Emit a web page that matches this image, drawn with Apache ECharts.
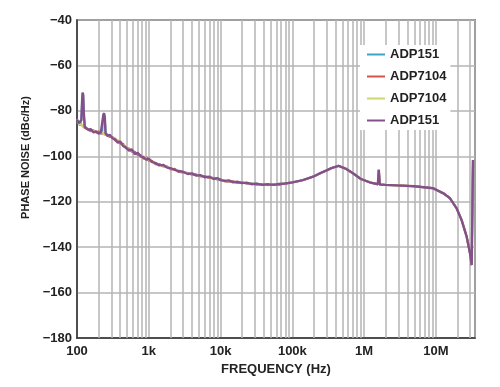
<!DOCTYPE html>
<html>
<head>
<meta charset="utf-8">
<script src="https://cdn.jsdelivr.net/npm/echarts@6/dist/echarts.min.js"></script>
<style>
  html, body { margin: 0; padding: 0; background: #fff; }
  #chart { width: 500px; height: 387px; }
</style>
</head>
<body>
<div id="chart"></div>
<script>
// ---- data ----
const seriesNames = ['ADP151', 'ADP7104', 'ADP7104', 'ADP151'];
const seriesColors = ['#3aa6c4', '#d2554c', '#cfd670', '#84508a'];

const freqHz = [
  100, 105, 110, 115, 118, 120, 122, 124, 128, 135,
  145, 155, 170, 185, 200, 215, 225, 232, 238, 244,
  250, 265, 285, 310, 340, 370, 400, 440, 480, 530,
  580, 640, 700, 770, 850, 930, 1000, 1100, 1250, 1400,
  1600, 1800, 2000, 2300, 2600, 3000, 3500, 4000, 4600, 5200,
  6000, 7000, 8000, 9000, 10000, 11500, 13000, 15000, 17000, 20000,
  23000, 27000, 32000, 38000, 45000, 55000, 65000, 80000,
  100000, 140000, 200000, 250000, 300000, 350000, 440000, 550000, 700000, 900000,
  1200000, 1550000, 1600000, 1650000, 2000000, 2800000, 5000000, 9200000, 12700000, 15700000,
  19400000, 22800000, 26800000, 29800000, 31500000, 32500000, 32800000
];

// low-frequency (noisy) part of each trace, 100 Hz .. 80 kHz
const adp151aLow = [
  -83.5, -85, -86.5, -84, -75, -72, -73, -80, -86.5, -88,
  -88, -88.5, -89, -89.5, -89.5, -90, -89, -82, -81, -83,
  -89.5, -90.5, -91, -91.5, -93, -93.5, -94, -95, -96.5, -97,
  -97.5, -98.5, -99, -99.5, -101, -101, -101.5, -102, -103.5, -103.5,
  -104.3, -104.6, -105.6, -105.7, -106.8, -107.2, -107.3, -108, -108.1, -108.8,
  -108.8, -109.5, -109.6, -110.2, -110.2, -111, -111, -111.2, -111.6, -111.5,
  -112, -112, -112.4, -112.3, -112.6, -112.4, -112.5, -111.9
];
const adp7104aLow = [
  -84.5, -85, -85.5, -86, -86.5, -86, -87, -86.5, -87.5, -87,
  -88, -89, -88.5, -89.5, -89, -90, -89.5, -90, -89.5, -90.5,
  -90.5, -90, -91.5, -91.5, -93, -93, -94.5, -94.5, -96.5, -96.5,
  -98, -98, -99.5, -99.5, -101, -100.5, -102, -102, -103.5, -103.5,
  -104.5, -104.5, -105.8, -105.5, -106.9, -107, -107.6, -108, -108, -108.8,
  -108.7, -109.6, -109.5, -110.2, -110.2, -111, -111.2, -111, -111.7, -111.5,
  -112, -112.1, -112.4, -112.3, -112.7, -112.4, -112.4, -112
];
const adp7104bLow = [
  -85, -85, -86, -85.5, -86, -87, -86.5, -87, -87, -88,
  -88, -88.5, -89, -89, -90, -89.5, -90, -89.5, -90.5, -90,
  -91, -90.5, -91, -92, -92, -93.5, -94, -95, -95.5, -97,
  -97.5, -98.5, -99, -100, -100, -101, -101.5, -102.5, -103, -103.8,
  -104.2, -104.8, -105.5, -106, -106.5, -107, -107.5, -107.8, -108.3, -108.5,
  -109, -109.3, -109.8, -110, -110.5, -110.6, -111, -111.3, -111.4, -111.7,
  -111.8, -112.2, -112.2, -112.5, -112.4, -112.5, -112.3, -112
];
const adp151bLow = [
  -84, -85.5, -86, -84, -75, -72, -73, -80, -87, -87.5,
  -88.5, -88, -89.5, -89, -90, -89.5, -89, -82, -81, -83,
  -90, -91, -90.5, -92, -92.5, -94, -93.5, -95.5, -96, -97.5,
  -97, -99, -98.5, -100, -100.5, -101.5, -101, -102.5, -103, -104,
  -103.8, -105, -105.2, -106, -106.5, -106.8, -107.8, -107.5, -108.5, -108.3,
  -109.2, -109, -110, -109.6, -110.5, -110.8, -110.6, -111.5, -111.2, -111.8,
  -111.6, -112.3, -112, -112.6, -112.3, -112.6, -112.2, -112
];
// high-frequency part, 100 kHz .. 32.8 MHz (traces coincide here)
const highFreqTrace = [
  -111.5, -110.5, -108.8, -107.3, -106.2, -105.2, -104.2, -105.4, -107.5, -110,
  -111.5, -112.3, -106, -112.4, -112.6, -112.8, -113.2, -114.1, -116.3, -118.5,
  -122.9, -128.1, -135.4, -142.7, -147.9, -148.6, -101.6
];

const xTickLabels = { 2: '100', 3: '1k', 4: '10k', 5: '100k', 6: '1M', 7: '10M' };
const yMin = -180, yMax = -40, yStep = 20;
const xMin = 100, xMax = 35e6;

// ---- build ----
const traces = [adp151aLow, adp7104aLow, adp7104bLow, adp151bLow].map(low => low.concat(highFreqTrace));

// minor log grid positions (2..9 x each decade)
const minorGrid = [];
for (let d = 100; d <= 1e7; d *= 10) {
  for (let m = 2; m <= 9; m++) {
    const v = m * d;
    if (v < xMax) minorGrid.push({ xAxis: v });
  }
}

const gridColor = '#b4b4b4';
const font = '"Liberation Sans", Arial, Helvetica, sans-serif';

const series = [{
  name: '__grid',
  type: 'line',
  data: [],
  z: 1,
  silent: true,
  markLine: {
    z: 1,
    silent: true,
    animation: false,
    symbol: ['none', 'none'],
    label: { show: false },
    emphasis: { disabled: true },
    lineStyle: { color: gridColor, width: 1.5, type: 'solid' },
    data: minorGrid
  }
}];

traces.forEach((vals, i) => {
  series.push({
    name: seriesNames[i] + '|' + i,
    type: 'line',
    z: 3 + i,
    symbol: 'none',
    showSymbol: false,
    animation: false,
    lineStyle: { width: i === 3 ? 2.4 : 2, color: seriesColors[i] },
    itemStyle: { color: seriesColors[i] },
    data: freqHz.map((f, k) => [f, vals[k]])
  });
});

const chart = echarts.init(document.getElementById('chart'), null, { renderer: 'canvas' });
chart.setOption({
  animation: false,
  backgroundColor: '#fff',
  grid: {
    left: 77, right: 25, top: 20, bottom: 49,
    show: true, borderColor: '#333', borderWidth: 1.5, backgroundColor: 'transparent'
  },
  legend: {
    data: seriesNames.map((n, i) => n + '|' + i),
    left: 360, top: 45,
    orient: 'vertical',
    backgroundColor: '#fff',
    padding: [3, 4, 3, 7],
    icon: 'path://M0,0 L18,0 L18,2 L0,2 Z',
    itemWidth: 18, itemHeight: 14, itemGap: 9,
    selectedMode: false,
    formatter: name => name.split('|')[0],
    textStyle: { fontFamily: font, fontWeight: 'bold', fontSize: 13, color: '#222' }
  },
  xAxis: {
    type: 'log', logBase: 10, min: xMin, max: xMax,
    name: 'FREQUENCY (Hz)', nameLocation: 'middle', nameGap: 22,
    nameTextStyle: { fontFamily: font, fontWeight: 'bold', fontSize: 13, color: '#222' },
    axisLine: { show: true, lineStyle: { color: '#333', width: 1.5 } },
    axisTick: { show: false },
    axisLabel: {
      margin: 7, fontFamily: font, fontWeight: 'bold', fontSize: 13, color: '#222',
      formatter: v => {
        const e = Math.log10(v);
        const r = Math.round(e);
        return Math.abs(e - r) < 1e-6 && xTickLabels[r] ? xTickLabels[r] : '';
      }
    },
    splitLine: { show: true, lineStyle: { color: gridColor, width: 1.5 } },
    minorSplitLine: { show: false }
  },
  yAxis: {
    type: 'value', min: yMin, max: yMax, interval: yStep,
    name: 'PHASE NOISE (dBc/Hz)', nameLocation: 'middle', nameGap: 41,
    nameRotate: 90,
    nameTextStyle: { fontFamily: font, fontWeight: 'bold', fontSize: 11, color: '#222', padding: [0, 0, 0, 43] },
    axisLine: { show: true, lineStyle: { color: '#333', width: 1.5 } },
    axisTick: { show: false },
    axisLabel: {
      margin: 5, fontFamily: font, fontWeight: 'bold', fontSize: 13, color: '#222',
      formatter: v => (v < 0 ? '\u2212' + Math.abs(v) : String(v))
    },
    splitLine: { show: true, lineStyle: { color: gridColor, width: 1.5 } }
  },
  series: series
});
</script>
</body>
</html>
